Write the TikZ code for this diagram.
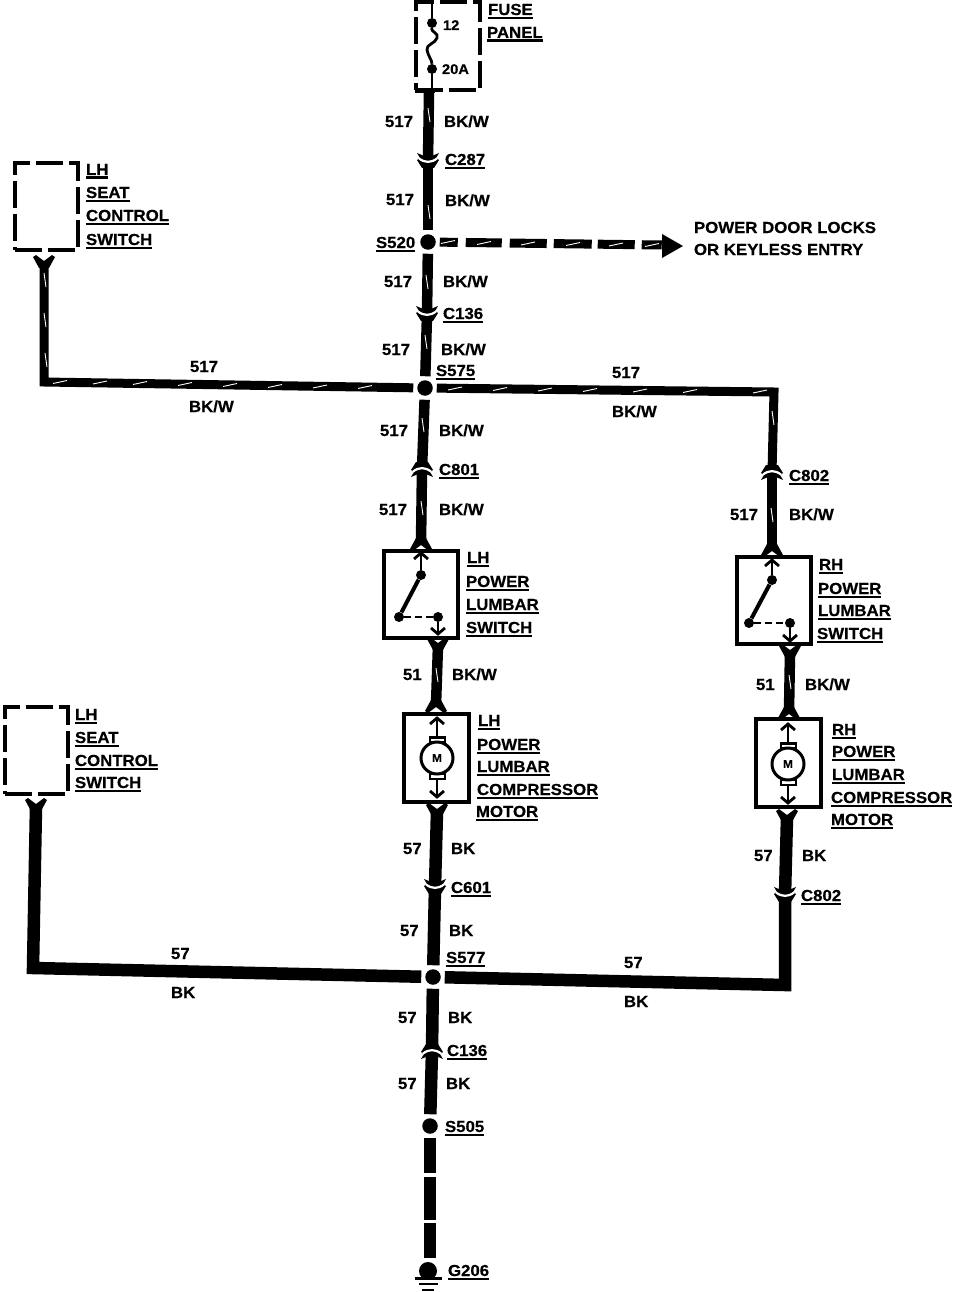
\documentclass[tikz,border=0pt]{standalone}
\usepackage{fontspec}
\setmainfont{Liberation Sans}[BoldFont={Liberation Sans Bold},BoldFeatures={FakeStretch=1.05,FakeBold=0.4}]
\usetikzlibrary{calc}
\newcommand{\ulbox}[1]{\vtop{\hbox{#1}\kern1.5pt\hrule height 2.5pt}}
\tikzset{
  x=1pt,y=-1pt,
  txt/.style={anchor=base west,inner sep=0pt,outer sep=0pt,font=\fontsize{16}{16}\selectfont\bfseries,text=black},
  small/.style={anchor=base west,inner sep=0pt,outer sep=0pt,font=\fontsize{14}{14}\selectfont\bfseries,text=black},
  wire/.style={line width=10.5pt,black},
  wirethin/.style={line width=9pt,black},
  wirefat/.style={line width=12.5pt,black},
  fleck/.style={white,line width=0.9pt},
  dashbox/.style={draw,line width=4pt,dash pattern=on 27pt off 6pt,minimum width=0pt},
  solidbox/.style={draw,line width=4pt,inner sep=0pt},
  splice/.style={circle,fill=black,inner sep=0pt,minimum size=15.5pt,outer sep=4pt},
  inner/.style={line width=2.8pt,black},
  term/.style={circle,fill=black,inner sep=0pt,minimum size=10pt},
}
% labels
\newcommand{\ulab}[4]{\node[txt] (#1) at (#2,#3) {\ulbox{#4}};}
\newcommand{\plab}[4]{\node[txt] (#1) at (#2,#3) {#4};}
% connector: #1 name, #2 direction (1 or -1)
\newcommand{\conn}[2]{\begin{scope}[shift={(#1)},yscale=#2]
  \fill[black] (-11,-8)--(-5,-5.5)--(5,-5.5)--(11,-8)--(8,-3)--(11,-1)--(6,7)--(-6,7)--(-11,-1)--(-8,-3)--cycle;
  \draw[white,line width=2.2pt] (-9,-2.5) .. controls (-3,2) and (3,2) .. (9,-2.5);
  \end{scope}}
% fork: #1 name, #2 direction (1: tips up, -1: tips down)
\newcommand{\fork}[2]{\begin{scope}[shift={(#1)},yscale=#2]
  \fill[black] (-11,-6)--(-8,-8)--(0,-2)--(8,-8)--(11,-6)--(5,5)--(-5,5)--cycle;
  \end{scope}}
% open arrow in a box: #1 tip coordinate name, #2 direction (1: up, -1: down)
\newcommand{\tipmark}[2]{\begin{scope}[shift={(#1)},yscale=#2]
  \draw[inner] (-7,7)--(0,1)--(7,7);
  \end{scope}}
\newcommand{\vfleck}[2]{\draw[fleck] (#1-1,#2-7)--(#1+1,#2+7);}
\newcommand{\hfleck}[2]{\draw[fleck] (#1-7,#2+1.5)--(#1+7,#2-1.5);}
\begin{document}
\begin{tikzpicture}
\useasboundingbox (0,0) rectangle (960,1292);
\fill[white] (0,0) rectangle (960,1292);

% ---- fuse panel
\node[dashbox,minimum width=64pt,minimum height=88pt,inner sep=0pt] (fuse) at (447.5,46.5) {};
\node[term] (f12) at (432,23) {};
\node[term] (f20) at (432,69) {};
\draw[inner] (fuse.north west -| f12) -- (f12);
\draw[inner] (f12) .. controls (431,32) and (439,33) .. (437,38) .. controls (435,44) and (426,44) .. (427,50) .. controls (428,56) and (432,60) .. (f20);
\draw[inner] (f20) -- (f20 |- fuse.south);
\draw[line width=4pt] (415,91)--(435,91);
\node[small] (t12) at (443,30) {12};
\node[small] (t20a) at (442,74) {20A};

% ---- splices
\node[splice] (s520) at (428,242) {};
\node[splice] (s575) at (425,388) {};
\node[splice] (s577) at (433,977) {};
\node[splice] (s505) at (430,1126) {};

% ---- coordinates
\coordinate (c287) at (428,161);
\coordinate (c136a) at (427,314);
\coordinate (c801) at (422,469);
\coordinate (c802a) at (772,472);
\coordinate (c601) at (435,887);
\coordinate (c802b) at (785,895);
\coordinate (c136b) at (432,1051);
\coordinate (f1) at (421,543);
\coordinate (f2) at (438,645);
\coordinate (f3) at (436,705);
\coordinate (f4) at (437,811);
\coordinate (f5) at (772,549);
\coordinate (f6) at (790,652);
\coordinate (f7) at (789,712);
\coordinate (f8) at (787,817);
\coordinate (f9) at (44,263);
\coordinate (f10) at (36,806);
\coordinate (cr1) at (44,382);
\coordinate (cr2) at (774,392);
\coordinate (cr3) at (33,968);
\coordinate (cr4) at (785,985);
\coordinate (gnd) at (430,1259);

% ---- boxes
\node[dashbox,minimum width=63pt,minimum height=87pt] (seat1) at (46.5,206.5) {};
\node[dashbox,minimum width=63pt,minimum height=87pt] (seat2) at (36,750.5) {};
\node[solidbox,minimum width=74pt,minimum height=87pt] (swl) at (420.5,594) {};
\node[solidbox,minimum width=74pt,minimum height=87pt] (swr) at (773.5,600.5) {};
\node[solidbox,minimum width=65pt,minimum height=88pt] (ml) at (436.5,758) {};
\node[solidbox,minimum width=65pt,minimum height=88pt] (mr) at (788,763) {};

% ---- wires
\draw[wire] (fuse.south -| 429,0) -- (c287);
\draw[wire] (c287) -- (s520);
\draw[wire] (s520) -- (c136a);
\draw[wire] (c136a) -- (s575);
\draw[wire] (s575) -- (c801);
\draw[wire] (c801) -- (f1);
\draw[wire] (f2) -- (f3);
\draw[wirefat] (f4) -- (c601);
\draw[wirefat] (c601) -- (s577);
\draw[wirefat] (s577) -- (c136b);
\draw[wirefat] (c136b) -- (s505);
\draw[wirefat,dash pattern=on 35pt off 4pt on 43pt off 3pt on 35pt off 9pt] (s505) -- (gnd);
\draw[wirethin,line join=miter] (f9) -- (cr1) -- (s575);
\draw[wirethin,line join=miter] (s575) -- (cr2) -- (c802a);
\draw[wire] (c802a) -- (f5);
\draw[wire] (f6) -- (f7);
\draw[wirefat] (f8) -- (c802b);
\draw[wirefat,line join=miter] (c802b) -- (cr4) -- (s577);
\draw[wirefat,line join=miter] (f10) -- (cr3) -- (s577);

% ---- dashed branch
\coordinate (brend) at (662,245);
\draw[line width=9pt,dash pattern=on 18pt off 8pt on 36pt off 8pt on 37pt off 7pt on 38pt off 6pt on 37pt off 7pt on 20pt] (s520) -- (brend);
\node[inner sep=0pt] (brtip) at (683,246) {};
\fill[black] (662,234)--(brtip.center)--(662,258)--cycle;

% ---- connectors
\conn{c287}{1}\conn{c136a}{1}\conn{c801}{-1}\conn{c802a}{-1}\conn{c601}{1}\conn{c802b}{1}\conn{c136b}{-1}
% ---- forks
\fork{f1}{-1}\fork{f2}{1}\fork{f3}{-1}\fork{f4}{1}\fork{f5}{-1}\fork{f6}{1}\fork{f7}{-1}\fork{f8}{1}\fork{f9}{1}\fork{f10}{1}

% ---- LH switch
\coordinate (la) at (421,552);
\node[term] (lb) at (421,575) {};
\node[term] (lc) at (399,617) {};
\node[term] (ld) at (438,617) {};
\coordinate (le) at (438,635);
\draw[inner] (la) -- (lb);
\draw[line width=4pt] (lb) -- (lc);
\draw[inner,dash pattern=on 7pt off 4pt] (lc) -- (ld);
\draw[inner] (ld) -- (le);
\tipmark{la}{1}\tipmark{le}{-1}
% ---- RH switch
\coordinate (ra) at (772,559);
\node[term] (rb) at (772,580) {};
\node[term] (rc) at (749,623) {};
\node[term] (rd) at (790,623) {};
\coordinate (re) at (790,642);
\draw[inner] (ra) -- (rb);
\draw[line width=4pt] (rb) -- (rc);
\draw[inner,dash pattern=on 7pt off 4pt] (rc) -- (rd);
\draw[inner] (rd) -- (re);
\tipmark{ra}{1}\tipmark{re}{-1}

% ---- LH motor
\fill[black] (428.5,736) rectangle (445.5,743);
\fill[black] (428.5,773) rectangle (445.5,780);
\fill[white] (430.5,738.5) rectangle (443.5,741);
\fill[white] (430.5,775) rectangle (443.5,777.5);
\node[draw,circle,fill=white,line width=3pt,minimum size=32pt,inner sep=0pt,font=\fontsize{11}{11}\selectfont\bfseries] (lm) at (437,758) {M};
\coordinate (lma) at (437,717);
\coordinate (lmb) at (437,798);
\draw[inner] (lma) -- (437,736);
\draw[inner] (437,780) -- (lmb);
\tipmark{lma}{1}\tipmark{lmb}{-1}
% ---- RH motor
\fill[black] (779.5,742) rectangle (796.5,749);
\fill[black] (779.5,779) rectangle (796.5,786);
\fill[white] (781.5,744.5) rectangle (794.5,747);
\fill[white] (781.5,781) rectangle (794.5,783.5);
\node[draw,circle,fill=white,line width=3pt,minimum size=32pt,inner sep=0pt,font=\fontsize{11}{11}\selectfont\bfseries] (rm) at (788,764) {M};
\coordinate (rma) at (788,723);
\coordinate (rmb) at (788,804);
\draw[inner] (rma) -- (788,742);
\draw[inner] (788,786) -- (rmb);
\tipmark{rma}{1}\tipmark{rmb}{-1}

% ---- ground
\node[circle,fill=black,inner sep=0pt,minimum size=18pt] (gd) at (428,1271) {};
\draw[line width=3pt] (415,1278)--(442,1278);
\draw[line width=2.5pt] (419,1284)--(438,1284);
\draw[line width=2.5pt] (422,1290)--(434,1290);

% ---- white flecks in BK/W wires
\vfleck{429}{115}\vfleck{429}{212}\vfleck{427}{282}\vfleck{426}{342}\vfleck{423}{425}\vfleck{422}{508}
\vfleck{437}{675}\vfleck{773}{418}\vfleck{772}{515}\vfleck{790}{682}
\vfleck{45}{280}\vfleck{45}{320}\vfleck{46}{360}
\foreach \hx/\hy in {60/382,100/382.5,140/383,185/384,230/385,275/386,320/386.5,365/387}{\hfleck{\hx}{\hy}}
\foreach \hx/\hy in {455/388.5,500/389,545/389.5,590/390,640/390.5,690/391,760/391.5}{\hfleck{\hx}{\hy}}
\foreach \hx/\hy in {448/242,484/243,528/243.5,573/244,616/244.5,652/245}{\hfleck{\hx}{\hy}}

% ---- underlined names
\ulab{u1}{488}{15}{FUSE}\ulab{u2}{487}{38}{PANEL}
\ulab{u3}{445}{165}{C287}\ulab{u4}{376}{248}{S520}\ulab{u5}{443}{319}{C136}
\ulab{u6}{436}{376}{S575}\ulab{u7}{439}{475}{C801}\ulab{u8}{789}{481}{C802}
\ulab{u9}{451}{893}{C601}\ulab{u10}{801}{901}{C802}\ulab{u11}{446}{963}{S577}
\ulab{u12}{447}{1056}{C136}\ulab{u13}{445}{1132}{S505}\ulab{u14}{448}{1276}{G206}
\ulab{a1}{86}{175}{LH}\ulab{a2}{86}{198}{SEAT}\ulab{a3}{86}{221}{CONTROL}\ulab{a4}{86}{245}{SWITCH}
\ulab{b1}{75}{720}{LH}\ulab{b2}{75}{743}{SEAT}\ulab{b3}{75}{766}{CONTROL}\ulab{b4}{75}{788}{SWITCH}
\ulab{c1}{467}{563}{LH}\ulab{c2}{466}{587}{POWER}\ulab{c3}{466}{610}{LUMBAR}\ulab{c4}{466}{633}{SWITCH}
\ulab{d1}{819}{570}{RH}\ulab{d2}{818}{594}{POWER}\ulab{d3}{818}{616}{LUMBAR}\ulab{d4}{817}{639}{SWITCH}
\ulab{e1}{478}{726}{LH}\ulab{e2}{477}{750}{POWER}\ulab{e3}{477}{772}{LUMBAR}\ulab{e4}{477}{795}{COMPRESSOR}\ulab{e5}{476}{817}{MOTOR}
\ulab{g1}{832}{735}{RH}\ulab{g2}{832}{757}{POWER}\ulab{g3}{832}{780}{LUMBAR}\ulab{g4}{831}{803}{COMPRESSOR}\ulab{g5}{831}{825}{MOTOR}

% ---- plain labels
\plab{p1}{694}{233}{POWER DOOR LOCKS}\plab{p2}{694}{255}{OR KEYLESS ENTRY}
\plab{n1}{385}{127}{517}\plab{w1}{444}{127}{BK/W}
\plab{n2}{386}{205}{517}\plab{w2}{445}{206}{BK/W}
\plab{n3}{384}{287}{517}\plab{w3}{443}{287}{BK/W}
\plab{n4}{382}{355}{517}\plab{w4}{441}{355}{BK/W}
\plab{n5}{190}{372}{517}\plab{w5}{189}{412}{BK/W}
\plab{n6}{612}{378}{517}\plab{w6}{612}{417}{BK/W}
\plab{n7}{380}{436}{517}\plab{w7}{439}{436}{BK/W}
\plab{n8}{379}{515}{517}\plab{w8}{439}{515}{BK/W}
\plab{n9}{730}{520}{517}\plab{w9}{789}{520}{BK/W}
\plab{n10}{403}{680}{51}\plab{w10}{452}{680}{BK/W}
\plab{n11}{756}{690}{51}\plab{w11}{805}{690}{BK/W}
\plab{n12}{403}{854}{57}\plab{w12}{451}{854}{BK}
\plab{n13}{754}{861}{57}\plab{w13}{802}{861}{BK}
\plab{n14}{400}{936}{57}\plab{w14}{449}{936}{BK}
\plab{n15}{171}{959}{57}\plab{w15}{171}{998}{BK}
\plab{n16}{624}{968}{57}\plab{w16}{624}{1007}{BK}
\plab{n17}{398}{1023}{57}\plab{w17}{448}{1023}{BK}
\plab{n18}{398}{1089}{57}\plab{w18}{446}{1089}{BK}
\end{tikzpicture}
\end{document}
